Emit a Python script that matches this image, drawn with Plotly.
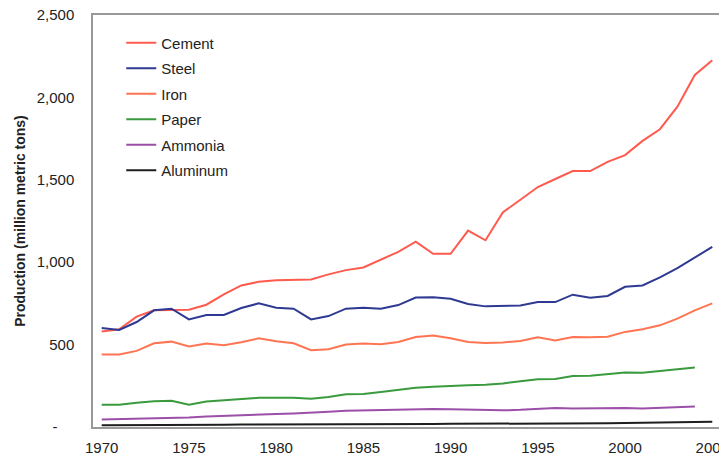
import plotly.graph_objects as go

years = list(range(1970, 2006))

cement = [579, 593, 670, 708, 710, 712, 742, 805, 859, 881, 891, 895, 895, 926, 952,
          968, 1016, 1063, 1125, 1051, 1051, 1192, 1133, 1303, 1379, 1456, 1505, 1553,
          1553, 1609, 1650, 1736, 1807, 1944, 2136, 2226]
steel = [601, 589, 637, 708, 718, 653, 680, 680, 722, 750, 724, 718, 653, 673, 718,
         724, 718, 740, 786, 788, 778, 746, 732, 737, 738, 758, 758, 803, 785, 795,
         851, 859, 908, 964, 1030, 1093]
iron = [440, 440, 462, 508, 518, 488, 506, 496, 514, 538, 520, 508, 466, 472, 500,
        506, 502, 516, 546, 555, 538, 516, 510, 513, 522, 545, 525, 546, 545, 548,
        577, 593, 617, 658, 708, 750]
paper_years = list(range(1970, 2005))
paper = [135, 135, 147, 157, 159, 135, 155, 161, 167, 177, 177, 177, 171, 182, 198,
         200, 212, 225, 238, 244, 250, 254, 256, 264, 278, 290, 292, 309, 311, 323,
         331, 329, 339, 349, 361]
ammonia = [46, 48, 50, 53, 56, 58, 63, 68, 72, 75, 79, 82, 85, 92, 99, 101, 103, 107,
           109, 109, 108, 105, 103, 101, 104, 109, 115, 113, 114, 115, 116, 112, 115,
           118, 125]
aluminum = [10, 10, 11, 12, 13, 12, 13, 14, 15, 15, 16, 16, 14, 14, 16, 16, 17, 17, 18,
            18, 19, 19, 19, 20, 19, 20, 21, 21, 22, 23, 24, 25, 26, 28, 30, 32]

series = [
    ("Cement", years, cement, "#FF5A4E"),
    ("Steel", years, steel, "#2E3A92"),
    ("Iron", years, iron, "#FF7552"),
    ("Paper", paper_years, paper, "#3A9A3E"),
    ("Ammonia", paper_years, ammonia, "#9B4FA8"),
    ("Aluminum", years, aluminum, "#1E1E1E"),
]

ytickvals = [0, 500, 1000, 1500, 2000, 2500]
yticktext = ["-" + "\u00a0" * 4, "500", "1,000", "1,500", "2,000", "2,500"]
xtickvals = [1970, 1975, 1980, 1985, 1990, 1995, 2000, 2005]

fig = go.Figure()
for name, xs, ys, color in series:
    fig.add_trace(go.Scatter(x=xs, y=ys, mode="lines", name=name, legendgroup=name,
                             line=dict(color=color, width=2)))

font_family = "Liberation Sans, Arial, sans-serif"
# page body has an 8px default margin, so the figure is sized 8px smaller
fig.update_layout(
    width=719, height=450,
    margin=dict(l=85, r=6, t=7, b=31, autoexpand=False),
    paper_bgcolor="white", plot_bgcolor="white",
    font=dict(family=font_family, size=15, color="#222"),
    showlegend=True,
    legend=dict(x=0.045, y=0.972, xanchor="left", yanchor="top",
                bgcolor="rgba(0,0,0,0)", tracegroupgap=3,
                font=dict(size=15, color="#222")),
    xaxis=dict(range=[1969.5, 2005.5], tickvals=xtickvals, showgrid=False,
               zeroline=False, showline=True, mirror=True, linecolor="#999",
               linewidth=1.5, ticks="", ticklabelstandoff=6, automargin=False,
               ticklabeloverflow="allow",
               tickfont=dict(size=15, color="#222")),
    yaxis=dict(range=[0, 2500], tickvals=ytickvals, ticktext=yticktext,
               showgrid=False, zeroline=False, showline=True, mirror=True,
               linecolor="#999", linewidth=1.5, ticks="", ticklabelstandoff=14,
               automargin=False, ticklabeloverflow="allow",
               tickfont=dict(size=15, color="#222"),
               title=dict(text="<b>Production (million metric tons)</b>",
                          font=dict(size=14, color="#222"), standoff=8)),
)

fig.write_html("out.html")
